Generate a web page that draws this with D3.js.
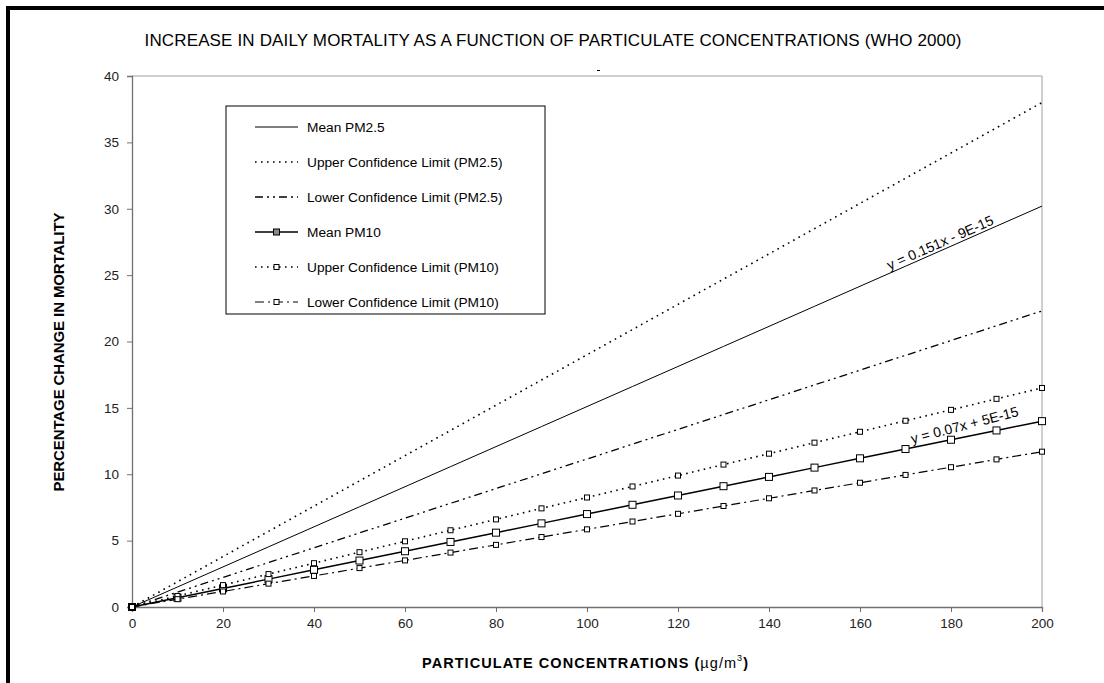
<!DOCTYPE html>
<html>
<head>
<meta charset="utf-8">
<script src="https://cdn.jsdelivr.net/npm/d3@7"></script>
<style>
  body { margin: 0; background: #fff; }
  svg { display: block; font-family: "Liberation Sans", Arial, sans-serif; }
</style>
</head>
<body>
<svg id="chart" width="1104" height="683"></svg>
<script>
// concentrations (µg/m3)
let conc = [0, 10, 20, 30, 40, 50, 60, 70, 80, 90, 100, 110, 120, 130, 140, 150, 160, 170, 180, 190, 200]

let meanPM25 = [0, 1.51, 3.02, 4.53, 6.04, 7.55, 9.06, 10.57, 12.08, 13.59, 15.1, 16.61, 18.12, 19.63, 21.14, 22.65, 24.16, 25.67, 27.18, 28.69, 30.2]
let upperPM25 = [0, 1.9, 3.8, 5.7, 7.6, 9.5, 11.4, 13.3, 15.2, 17.1, 19.0, 20.9, 22.8, 24.7, 26.6, 28.5, 30.4, 32.3, 34.2, 36.1, 38.0]
let lowerPM25 = [0, 1.12, 2.23, 3.35, 4.46, 5.58, 6.69, 7.81, 8.92, 10.04, 11.15, 12.27, 13.38, 14.5, 15.61, 16.73, 17.84, 18.96, 20.07, 21.19, 22.3]
let meanPM10 = [0, 0.7, 1.4, 2.1, 2.8, 3.5, 4.2, 4.9, 5.6, 6.3, 7.0, 7.7, 8.4, 9.1, 9.8, 10.5, 11.2, 11.9, 12.6, 13.3, 14.0]
let upperPM10 = [0, 0.83, 1.65, 2.48, 3.3, 4.13, 4.95, 5.78, 6.6, 7.43, 8.25, 9.08, 9.9, 10.73, 11.55, 12.38, 13.2, 14.03, 14.85, 15.68, 16.5]
let lowerPM10 = [0, 0.59, 1.17, 1.76, 2.34, 2.93, 3.51, 4.1, 4.68, 5.27, 5.85, 6.44, 7.02, 7.61, 8.19, 8.78, 9.36, 9.95, 10.53, 11.12, 11.7]

let xTicks = [0, 20, 40, 60, 80, 100, 120, 140, 160, 180, 200]
let yTicks = [0, 5, 10, 15, 20, 25, 30, 35, 40]

let seriesNames = ['Mean PM2.5', 'Upper Confidence Limit (PM2.5)', 'Lower Confidence Limit (PM2.5)',
  'Mean PM10', 'Upper Confidence Limit (PM10)', 'Lower Confidence Limit (PM10)']
let seriesValues = [meanPM25, upperPM25, lowerPM25, meanPM10, upperPM10, lowerPM10]

let title = 'INCREASE IN DAILY MORTALITY AS A FUNCTION OF PARTICULATE CONCENTRATIONS (WHO 2000)'
let eqPM25 = 'y = 0.151x - 9E-15'
let eqPM10 = 'y = 0.07x + 5E-15'

// line look for each series
let styles = [
  { dash: null, width: 1, marker: 0 },
  { dash: '1.6,4.4', width: 1.6, marker: 0 },
  { dash: '8,4,2,4,2,4', width: 1.3, marker: 0 },
  { dash: null, width: 1.5, marker: 7 },
  { dash: '1.6,4.4', width: 1.6, marker: 5 },
  { dash: '9,4,2,4', width: 1.2, marker: 5 }
]

let margin = { top: 76, left: 132 },
  plot_width = 1042 - 132,
  plot_height = 607 - 76

let svg = d3.select('#chart')

// outer frame (cut by window at right and bottom)
svg.append('rect')
  .attr('x', 8).attr('y', 8)
  .attr('width', 1200).attr('height', 800)
  .attr('fill', 'none').attr('stroke', '#000').attr('stroke-width', 4)

let xScale = d3.scaleLinear().domain([0, 200]).range([0, plot_width])
let yScale = d3.scaleLinear().domain([0, 40]).range([plot_height, 0])

let plot = svg.append('g').attr('transform', `translate(${margin.left},${margin.top})`)

// plot area top / right edges
plot.append('path')
  .attr('d', `M0,0H${plot_width}V${plot_height}`)
  .attr('fill', 'none').attr('stroke', '#a0a0a0').attr('stroke-width', 1)

let xAxis = d3.axisBottom(xScale).tickValues(xTicks).tickSize(5).tickPadding(6)
let xg = plot.append('g').attr('transform', `translate(0,${plot_height})`).call(xAxis)
let yAxis = d3.axisLeft(yScale).tickValues(yTicks).tickSize(5).tickPadding(8)
let yg = plot.append('g').call(yAxis)

for (let g of [xg, yg]) {
  g.select('.domain').attr('stroke', '#707070').attr('stroke-width', 1.3)
  g.selectAll('.tick line').attr('stroke', '#707070')
  g.selectAll('.tick text')
    .attr('font-family', '"Liberation Sans", Arial, sans-serif')
    .attr('font-size', 13.5).attr('fill', '#222')
}

// series lines
let line = d3.line()
  .x((d, i) => xScale(conc[i]))
  .y(d => yScale(d))

seriesValues.forEach((vals, idx) => {
  let st = styles[idx]
  plot.append('path')
    .datum(vals)
    .attr('d', line)
    .attr('fill', 'none')
    .attr('stroke', '#000')
    .attr('stroke-width', st.width)
    .attr('stroke-dasharray', st.dash)
  if (st.marker) {
    plot.selectAll('.mk' + idx)
      .data(vals)
      .enter().append('rect')
      .attr('class', 'mk' + idx)
      .attr('x', (d, i) => xScale(conc[i]) - st.marker / 2)
      .attr('y', d => yScale(d) - st.marker / 2)
      .attr('width', st.marker).attr('height', st.marker)
      .attr('fill', '#fff').attr('stroke', '#000').attr('stroke-width', 1)
  }
})

// trendline equations, rotated along their lines
function eqLabel(text, vals, xv, dy, extraAngle) {
  let i0 = 0, i1 = vals.length - 1
  let ang = Math.atan2(yScale(vals[i1]) - yScale(vals[i0]), xScale(conc[i1]) - xScale(conc[i0])) * 180 / Math.PI
  let yv = vals[i1] * xv / conc[i1]
  plot.append('text')
    .attr('transform', `translate(${xScale(xv)},${yScale(yv) + dy}) rotate(${ang + extraAngle})`)
    .attr('font-size', 14).attr('fill', '#000')
    .text(text)
}
eqLabel(eqPM25, meanPM25, 166.5, -3, 0)
eqLabel(eqPM10, meanPM10, 171.5, -4, -3)

// title
svg.append('text')
  .attr('x', 553).attr('y', 46)
  .attr('text-anchor', 'middle')
  .attr('font-size', 17).attr('fill', '#000')
  .attr('textLength', 817).attr('lengthAdjust', 'spacing')
  .text(title)

// stray mark under the title
svg.append('rect').attr('x', 597).attr('y', 70).attr('width', 3).attr('height', 1).attr('fill', '#000')

// axis labels
svg.append('text')
  .attr('transform', `translate(64,352) rotate(-90)`)
  .attr('text-anchor', 'middle')
  .attr('font-size', 15).attr('font-weight', 'bold').attr('fill', '#000')
  .attr('textLength', 279).attr('lengthAdjust', 'spacing')
  .text('PERCENTAGE CHANGE IN MORTALITY')

let xl = svg.append('text')
  .attr('x', 585).attr('y', 668)
  .attr('text-anchor', 'middle')
  .attr('font-size', 14.5).attr('font-weight', 'bold').attr('fill', '#000')
  .attr('textLength', 326).attr('lengthAdjust', 'spacing')
xl.append('tspan').text('PARTICULATE CONCENTRATIONS (')
xl.append('tspan').attr('font-weight', 'normal').text('µg/m')
xl.append('tspan').attr('font-weight', 'normal').attr('font-size', 9).attr('dy', -7).text('3')
xl.append('tspan').attr('dy', 7).text(')')

// legend
let legend = svg.append('g').attr('transform', 'translate(226,106)')
legend.append('rect')
  .attr('width', 319).attr('height', 208)
  .attr('fill', '#fff').attr('stroke', '#000').attr('stroke-width', 1)

seriesNames.forEach((name, idx) => {
  let st = styles[idx]
  let y = 21 + idx * 35
  legend.append('line')
    .attr('x1', 29).attr('x2', 72).attr('y1', y).attr('y2', y)
    .attr('stroke', '#000').attr('stroke-width', st.width)
    .attr('stroke-dasharray', st.dash)
  if (st.marker) {
    let s = idx == 3 ? 6 : 5
    legend.append('rect')
      .attr('x', 50.5 - s / 2).attr('y', y - s / 2)
      .attr('width', s).attr('height', s)
      .attr('fill', idx == 3 ? '#888' : '#fff')
      .attr('stroke', '#000')
  }
  legend.append('text')
    .attr('x', 81).attr('y', y + 5)
    .attr('font-size', 13.7).attr('fill', '#000')
    .text(name)
})
</script>
</body>
</html>
